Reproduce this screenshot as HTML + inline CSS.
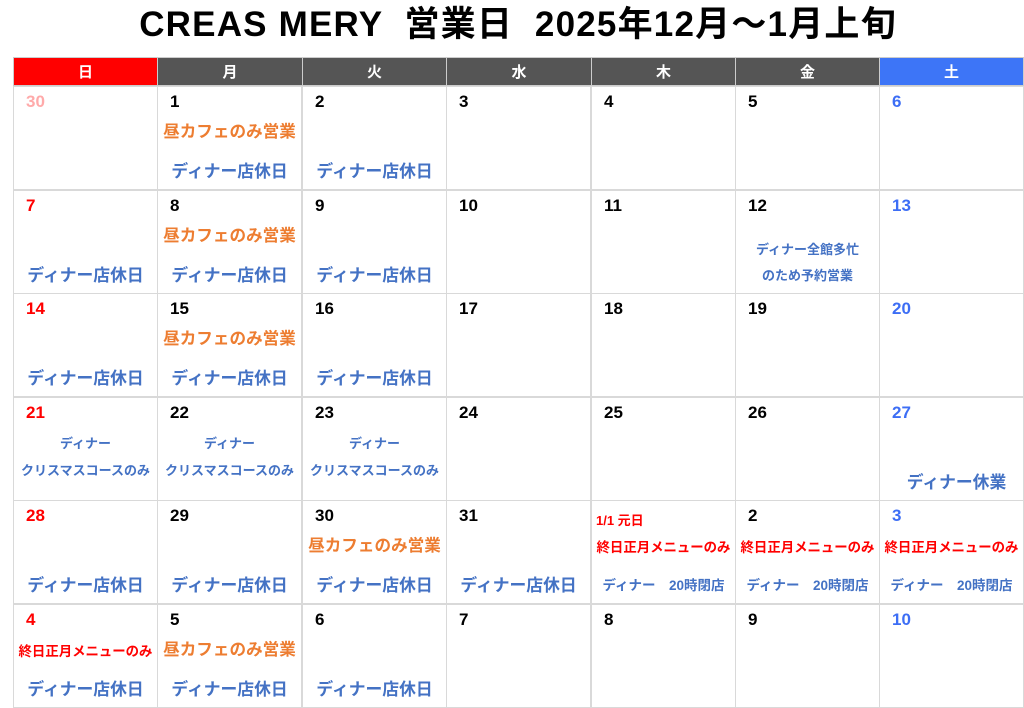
<!DOCTYPE html>
<html><head><meta charset="utf-8"><style>
body{margin:0;width:1024px;height:708px;background:#fff;position:relative;overflow:hidden;font-family:"Liberation Sans","Noto Sans CJK JP",sans-serif;font-weight:bold}
.t{position:absolute;left:0;width:1036px;top:-4px;text-align:center;font-size:35px;font-weight:bold;color:#000;white-space:pre;letter-spacing:1.2px}
.h{position:absolute;top:57px;height:29px;line-height:29px;text-align:center;color:#fff;font-size:15px;box-sizing:border-box;border:1px solid #ccc;background:#555}
.c{position:absolute;width:145px;height:104px;box-sizing:border-box;border:1px solid #d9d9d9}
.n{position:absolute;left:12px;top:5px;font-size:17px;color:#000}
.r{color:#f00}.b{color:#3d6ef5}.p{color:#ffaaaa}
.l{position:absolute;left:0;right:0;text-align:center;white-space:nowrap}
.o{color:#ed7d31;font-size:16.6px;top:31px}
.d{color:#4472c4;font-size:16.8px;top:71px}
.s{color:#4472c4;font-size:13px}
.m{color:#f00;font-size:13.4px;top:35px}
</style></head><body>
<div class="t">CREAS MERY  営業日  2025年12月～1月上旬</div>
<div class="h" style="left:13px;width:145px;background:#f00">日</div>
<div class="h" style="left:157px;width:146px">月</div>
<div class="h" style="left:302px;width:145px">火</div>
<div class="h" style="left:446px;width:146px">水</div>
<div class="h" style="left:591px;width:145px">木</div>
<div class="h" style="left:735px;width:145px">金</div>
<div class="h" style="left:879px;width:145px;background:#3d75f7">土</div>

<div class="c" style="left:13px;top:86px"><span class="n p">30</span></div>
<div class="c" style="left:157px;top:86px"><span class="n">1</span><div class="l o">昼カフェのみ営業</div><div class="l d">ディナー店休日</div></div>
<div class="c" style="left:302px;top:86px"><span class="n">2</span><div class="l d">ディナー店休日</div></div>
<div class="c" style="left:446px;top:86px"><span class="n">3</span></div>
<div class="c" style="left:591px;top:86px"><span class="n">4</span></div>
<div class="c" style="left:735px;top:86px"><span class="n">5</span></div>
<div class="c" style="left:879px;top:86px"><span class="n b">6</span></div>

<div class="c" style="left:13px;top:190px"><span class="n r">7</span><div class="l d">ディナー店休日</div></div>
<div class="c" style="left:157px;top:190px"><span class="n">8</span><div class="l o">昼カフェのみ営業</div><div class="l d">ディナー店休日</div></div>
<div class="c" style="left:302px;top:190px"><span class="n">9</span><div class="l d">ディナー店休日</div></div>
<div class="c" style="left:446px;top:190px"><span class="n">10</span></div>
<div class="c" style="left:591px;top:190px"><span class="n">11</span></div>
<div class="c" style="left:735px;top:190px"><span class="n">12</span><div class="l s" style="top:48px">ディナー全館多忙</div><div class="l s" style="top:74px">のため予約営業</div></div>
<div class="c" style="left:879px;top:190px"><span class="n b">13</span></div>

<div class="c" style="left:13px;top:293px"><span class="n r">14</span><div class="l d">ディナー店休日</div></div>
<div class="c" style="left:157px;top:293px"><span class="n">15</span><div class="l o">昼カフェのみ営業</div><div class="l d">ディナー店休日</div></div>
<div class="c" style="left:302px;top:293px"><span class="n">16</span><div class="l d">ディナー店休日</div></div>
<div class="c" style="left:446px;top:293px"><span class="n">17</span></div>
<div class="c" style="left:591px;top:293px"><span class="n">18</span></div>
<div class="c" style="left:735px;top:293px"><span class="n">19</span></div>
<div class="c" style="left:879px;top:293px"><span class="n b">20</span></div>

<div class="c" style="left:13px;top:397px"><span class="n r">21</span><div class="l s" style="top:35px">ディナー</div><div class="l s" style="top:62px">クリスマスコースのみ</div></div>
<div class="c" style="left:157px;top:397px"><span class="n">22</span><div class="l s" style="top:35px">ディナー</div><div class="l s" style="top:62px">クリスマスコースのみ</div></div>
<div class="c" style="left:302px;top:397px"><span class="n">23</span><div class="l s" style="top:35px">ディナー</div><div class="l s" style="top:62px">クリスマスコースのみ</div></div>
<div class="c" style="left:446px;top:397px"><span class="n">24</span></div>
<div class="c" style="left:591px;top:397px"><span class="n">25</span></div>
<div class="c" style="left:735px;top:397px"><span class="n">26</span></div>
<div class="c" style="left:879px;top:397px"><span class="n b">27</span><div class="l d" style="left:10px">ディナー休業</div></div>

<div class="c" style="left:13px;top:500px"><span class="n r">28</span><div class="l d">ディナー店休日</div></div>
<div class="c" style="left:157px;top:500px"><span class="n">29</span><div class="l d">ディナー店休日</div></div>
<div class="c" style="left:302px;top:500px"><span class="n">30</span><div class="l o">昼カフェのみ営業</div><div class="l d">ディナー店休日</div></div>
<div class="c" style="left:446px;top:500px"><span class="n">31</span><div class="l d">ディナー店休日</div></div>
<div class="c" style="left:591px;top:500px"><span class="n r" style="font-size:13px;top:9px;left:4px">1/1 元日</span><div class="l m">終日正月メニューのみ</div><div class="l s" style="top:73px;font-size:13.5px">ディナー　20時閉店</div></div>
<div class="c" style="left:735px;top:500px"><span class="n">2</span><div class="l m">終日正月メニューのみ</div><div class="l s" style="top:73px;font-size:13.5px">ディナー　20時閉店</div></div>
<div class="c" style="left:879px;top:500px"><span class="n b">3</span><div class="l m">終日正月メニューのみ</div><div class="l s" style="top:73px;font-size:13.5px">ディナー　20時閉店</div></div>

<div class="c" style="left:13px;top:604px"><span class="n r">4</span><div class="l m">終日正月メニューのみ</div><div class="l d">ディナー店休日</div></div>
<div class="c" style="left:157px;top:604px"><span class="n">5</span><div class="l o">昼カフェのみ営業</div><div class="l d">ディナー店休日</div></div>
<div class="c" style="left:302px;top:604px"><span class="n">6</span><div class="l d">ディナー店休日</div></div>
<div class="c" style="left:446px;top:604px"><span class="n">7</span></div>
<div class="c" style="left:591px;top:604px"><span class="n">8</span></div>
<div class="c" style="left:735px;top:604px"><span class="n">9</span></div>
<div class="c" style="left:879px;top:604px"><span class="n b">10</span></div>
</body></html>
